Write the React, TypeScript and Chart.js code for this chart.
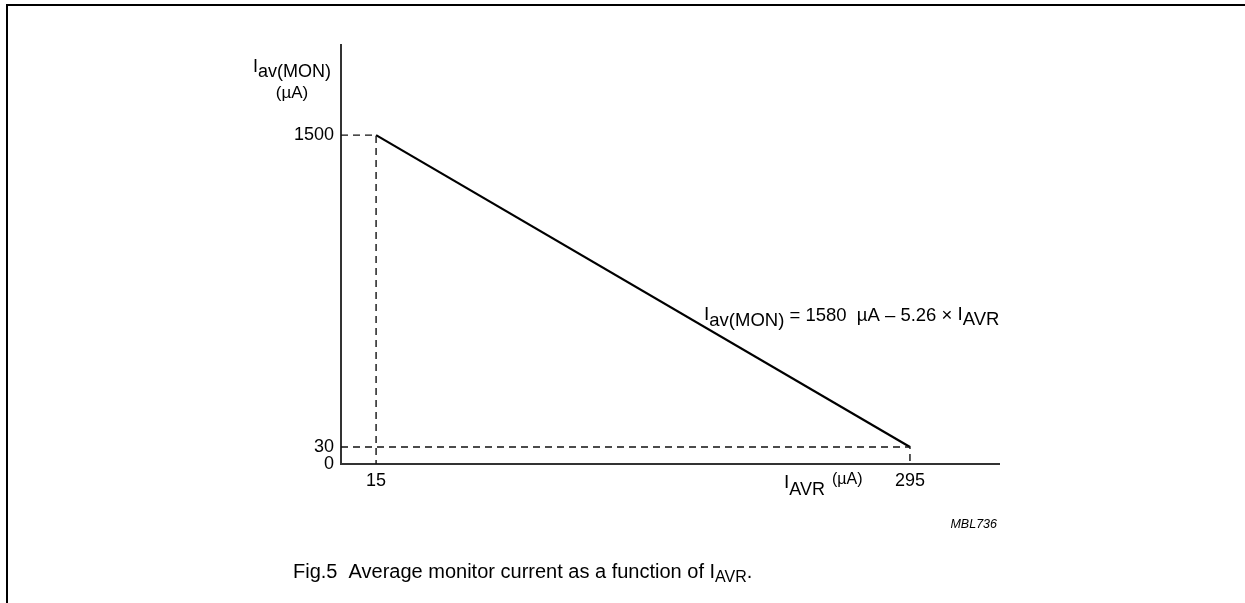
import { useEffect, useRef } from 'react';
import { Chart, registerables, LinearScale } from 'chart.js';

Chart.register(...registerables);

// ---- data ----
const lineX = [15, 295];
const lineY = [1500, 30];
const xTickValues = [15, 295];
const yTickValues = [0, 30, 1500];
const X_MIN = -3.4;
const X_MAX = 341.7;
const Y_MIN = 0;
const Y_MAX = 1924;
// schematic (not-to-scale) y axis: [value, fraction of axis height]
const yStops: [number, number][] = [[0, 0], [30, 0.0406], [1500, 0.785], [1924, 1]];

function valueToFrac(v: number): number {
  const s = yStops;
  let i = 0;
  while (i < s.length - 2 && v > s[i + 1][0]) i++;
  const [v0, f0] = s[i];
  const [v1, f1] = s[i + 1];
  return f0 + ((v - v0) / (v1 - v0)) * (f1 - f0);
}
function fracToValue(f: number): number {
  const s = yStops;
  let i = 0;
  while (i < s.length - 2 && f > s[i + 1][1]) i++;
  const [v0, f0] = s[i];
  const [v1, f1] = s[i + 1];
  return v0 + ((f - f0) / (f1 - f0)) * (v1 - v0);
}

class SchematicScale extends LinearScale {
  static id = 'schematic';
  static defaults = {};
  getPixelForValue(value: number) {
    const f = valueToFrac(value);
    return this.bottom - f * (this.bottom - this.top);
  }
  getValueForPixel(pixel: number) {
    const f = (this.bottom - pixel) / (this.bottom - this.top);
    return fracToValue(f);
  }
}
Chart.register(SchematicScale as any);

const FAMILY = "'Liberation Sans', Arial, Helvetica, sans-serif";

type Part = [string, number, number];
function drawRich(ctx: CanvasRenderingContext2D, x: number, y: number, parts: Part[], style = '') {
  let cx = x;
  for (const [text, size, dy] of parts) {
    ctx.font = `${style} ${size}px ${FAMILY}`;
    ctx.fillText(text, cx, y + dy);
    cx += ctx.measureText(text).width;
  }
}

const annotationPlugin = {
  id: 'annotations',
  beforeDraw(chart: any) {
    const ctx: CanvasRenderingContext2D = chart.ctx;
    ctx.save();
    ctx.fillStyle = '#fff';
    ctx.fillRect(0, 0, chart.width, chart.height);
    ctx.strokeStyle = '#000';
    ctx.lineWidth = 2;
    ctx.beginPath();
    ctx.moveTo(7, chart.height);
    ctx.lineTo(7, 5);
    ctx.lineTo(chart.width, 5);
    ctx.stroke();
    ctx.restore();
  },
  afterDraw(chart: any) {
    const ctx: CanvasRenderingContext2D = chart.ctx;
    ctx.save();
    ctx.fillStyle = '#000';
    ctx.textAlign = 'left';
    ctx.textBaseline = 'alphabetic';
    // y axis title
    drawRich(ctx, 253, 72, [['I', 18, 0], ['av(MON)', 18, 5]]);
    ctx.font = `17px ${FAMILY}`;
    ctx.textAlign = 'center';
    ctx.fillText('(\u00b5A)', 292, 98);
    ctx.textAlign = 'left';
    // x axis title
    drawRich(ctx, 784, 488, [['I', 19, 0], ['AVR', 18, 7]]);
    ctx.font = `16px ${FAMILY}`;
    ctx.fillText('(\u00b5A)', 832, 484);
    // equation
    drawRich(ctx, 704, 320, [
      ['I', 19, 0],
      ['av(MON)', 18.5, 6],
      [' = 1580  \u00b5A \u2013 5.26 \u00d7 ', 18.5, 1],
      ['I', 19, 0],
      ['AVR', 18.5, 5],
    ]);
    // code
    ctx.textAlign = 'right';
    ctx.font = `italic 12.5px ${FAMILY}`;
    ctx.fillText('MBL736', 997, 528);
    ctx.textAlign = 'left';
    // caption
    drawRich(ctx, 293, 578, [
      ['Fig.5  Average monitor current as a function of I', 20, 0],
      ['AVR', 16, 4],
      ['.', 20, 0],
    ]);
    ctx.restore();
  },
};

export default function App() {
  const ref = useRef<HTMLCanvasElement | null>(null);
  useEffect(() => {
    if (!ref.current) return;
    const guide = (i: number) => [
      { x: X_MIN, y: lineY[i] },
      { x: lineX[i], y: lineY[i] },
      { x: lineX[i], y: Y_MIN },
    ];
    const chart = new Chart(ref.current, {
      type: 'line',
      data: {
        datasets: [
          {
            data: guide(0),
            borderColor: '#111',
            borderWidth: 1.4,
            borderDash: [7, 5],
            pointRadius: 0,
            fill: false,
          },
          {
            data: guide(1),
            borderColor: '#111',
            borderWidth: 1.4,
            borderDash: [7, 5],
            pointRadius: 0,
            fill: false,
          },
          {
            data: lineX.map((x, i) => ({ x, y: lineY[i] })),
            borderColor: '#000',
            borderWidth: 2.2,
            pointRadius: 0,
            fill: false,
          },
        ],
      } as any,
      options: {
        animation: false,
        responsive: false,
        maintainAspectRatio: false,
        events: [],
        layout: { padding: { top: 45, right: 246, left: 0, bottom: 0 } },
        plugins: { legend: { display: false }, tooltip: { enabled: false } },
        scales: {
          x: {
            type: 'linear',
            min: X_MIN,
            max: X_MAX,
            grid: { display: false, drawTicks: false },
            border: { display: true, color: '#333', width: 2 },
            ticks: {
              color: '#000',
              font: { family: FAMILY, size: 18 },
              padding: 6,
              maxRotation: 0,
              callback: (v: any) => String(v),
            },
            afterBuildTicks: (s: any) => {
              s.ticks = xTickValues.map((v) => ({ value: v }));
            },
            afterFit: (s: any) => {
              s.height = 139;
            },
          },
          y: {
            type: 'schematic' as any,
            min: Y_MIN,
            max: Y_MAX,
            grid: { display: false, drawTicks: false },
            border: { display: true, color: '#333', width: 2 },
            ticks: {
              color: '#000',
              font: { family: FAMILY, size: 18 },
              padding: 7,
              callback: (v: any) => String(v),
            },
            afterBuildTicks: (s: any) => {
              s.ticks = yTickValues.map((v) => ({ value: v }));
            },
            afterFit: (s: any) => {
              s.width = 341;
            },
          },
        },
      } as any,
      plugins: [annotationPlugin],
    });
    return () => chart.destroy();
  }, []);
  return (
    <div style={{ position: 'fixed', left: 0, top: 0, width: 1245, height: 603 }}>
      <canvas ref={ref} width={1245} height={603} style={{ display: 'block' }} />
    </div>
  );
}
